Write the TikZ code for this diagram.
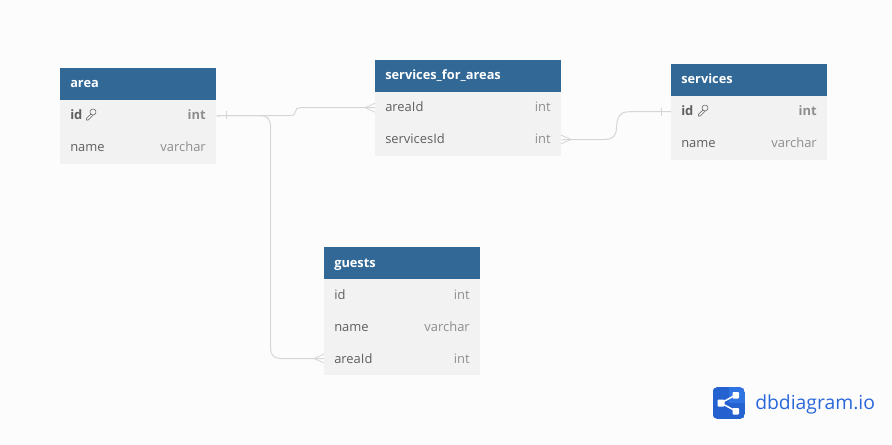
\documentclass[tikz,border=0pt]{standalone}
\usepackage{fontspec}
\setmainfont{Open Sans}
\usetikzlibrary{calc}
\definecolor{bgc}{HTML}{FCFCFD}
\definecolor{headc}{HTML}{316896}
\definecolor{rowc}{HTML}{F2F2F2}
\definecolor{namec}{HTML}{5F5F5F}
\definecolor{typec}{HTML}{8E8E8E}
\definecolor{linec}{HTML}{D6D6D6}
\definecolor{logoa}{HTML}{2F72E2}
\definecolor{logob}{HTML}{2562D0}
\definecolor{logot}{HTML}{2A68D9}
\tikzset{
  x=0.75pt,y=-0.75pt,
  headbox/.style={fill=headc,draw=none,inner sep=0,anchor=north west,minimum height=24pt},
  rowbox/.style={fill=rowc,draw=none,inner sep=0,anchor=north west,minimum height=24pt},
  headtext/.style={text=white,font=\fontsize{9.6}{12}\selectfont\bfseries,anchor=base west,inner sep=0},
  nametext/.style={text=namec,font=\fontsize{9.7}{12}\selectfont,anchor=base west,inner sep=0},
  typetext/.style={text=typec,font=\fontsize{9.7}{12}\selectfont,anchor=base east,inner sep=0},
  keyname/.style={nametext,font=\fontsize{9.7}{12}\selectfont\bfseries},
  keytype/.style={typetext,font=\fontsize{9.7}{12}\selectfont\bfseries},
  conn/.style={draw=linec,line width=0.75pt},
  crow/.style={draw=linec,line width=0.6pt},
  keyicon/.style={draw=namec,line width=0.4pt},
  logotext/.style={text=logot,font=\fontsize{14.5}{16}\selectfont,anchor=base west,inner sep=0},
}
% #1 name, #2 x, #3 top, #4 width, #5 title, #6 baseline offset
\newcommand{\tblhead}[6]{%
  \node[headbox,minimum width=#4*0.75pt] (#1) at (#2,#3) {};
  \node[headtext] (#1t) at ($(#2,#3)+(10,#6)$) {#5};
}
\newcommand{\tblrow}[8]{%
  \node[rowbox,minimum width=#4*0.75pt] (#1) at (#2,#3) {};
  \node[#7] (#1n) at ($(#2,#3)+(10,20.5)$) {#5};
  \node[#8] (#1y) at ($(#2+#4,#3)+(-10,20.5)$) {#6};
}
\newcommand{\keysym}[1]{%
  \draw[keyicon] ($(#1)+(7,-3)$) circle[radius=3];
  \draw[keyicon] ($(#1)+(5,-1)$) -- ($(#1)+(0.3,3.3)$) -- ($(#1)+(0.3,5)$) -- ($(#1)+(2.2,5)$) -- ($(#1)+(7,0.2)$);
}
\begin{document}
\begin{tikzpicture}
\useasboundingbox (0,0) rectangle (892,445);
\fill[bgc] (0,0) rectangle (892,445);

% area
\tblhead{area}{60}{67.5}{156}{area}{20}
\tblrow{areaid}{60}{99.5}{156}{id}{int}{keyname}{keytype}
\tblrow{areaname}{60}{131.5}{156}{name}{varchar}{nametext}{typetext}
\keysym{86,115}

% services_for_areas
\tblrow{sfaarea}{375}{91.5}{186}{areaId}{int}{nametext}{typetext}
\tblrow{sfaserv}{375}{123.5}{186}{servicesId}{int}{nametext}{typetext}
\tblhead{sfa}{375}{60}{186}{services\_for\_areas}{19.5}

% services
\tblhead{serv}{671}{63.5}{156}{services}{20}
\tblrow{servid}{671}{95.5}{156}{id}{int}{keyname}{keytype}
\tblrow{servname}{671}{127.5}{156}{name}{varchar}{nametext}{typetext}
\keysym{698,111}

% guests
\tblhead{guests}{324}{247}{156}{guests}{20.5}
\tblrow{gid}{324}{279}{156}{id}{int}{nametext}{typetext}
\tblrow{gname}{324}{311}{156}{name}{varchar}{nametext}{typetext}
\tblrow{garea}{324}{343}{156}{areaId}{int}{nametext}{typetext}

% connectors
\draw[conn] (areaid.east) -- (290,115.5) .. controls (294,115.5) and (295,114.5) .. (295.5,111.5) .. controls (296,108.7) and (297,107.7) .. (300,107.7) -- (sfaarea.west |- 0,107.7);
\draw[conn] (areaid.east) -- (260,115.5) .. controls (267,115.5) and (270.5,119) .. (270.5,126) -- (270.5,348) .. controls (270.5,355) and (274,358.5) .. (281,358.5) -- (garea.west |- 0,358.5);
\draw[conn] (sfaserv.east) -- (604,139.5) .. controls (613,139.5) and (616,136) .. (616.5,128) .. controls (617,116) and (620,111.7) .. (630,111.7) -- (servid.west |- 0,111.7);

% crow feet and bars
\draw[crow] (226,111) -- (226,119.5);
\draw[crow] (375,103.2) -- (365,107.7) -- (375,112.2);
\draw[crow] (324,354) -- (314,358.5) -- (324,363);
\draw[crow] (561,135) -- (571,139.5) -- (561,144);
\draw[crow] (661.5,107.7) -- (661.5,115.7);

% logo
\begin{scope}
\clip[rounded corners=4pt] (712.5,387) rectangle (745,419);
\fill[logoa] (712.5,387) rectangle (745,419);
\fill[logob] (712.5,387) rectangle (729,419);
\fill[logob] (729,403) rectangle (745,419);
\end{scope}
\fill[white,rounded corners=0.6pt] (717.5,399.5) rectangle (724.5,406.5);
\fill[white,rounded corners=0.6pt] (732.5,392) rectangle (739,398.5);
\fill[white,rounded corners=0.6pt] (732.5,408) rectangle (739,414.5);
\draw[white,line width=1.1pt] (721,403) -- (735.5,395) (721,403) -- (735.5,411);
\node[logotext] (logo) at (755,409.5) {dbdiagram.io};
\end{tikzpicture}
\end{document}
